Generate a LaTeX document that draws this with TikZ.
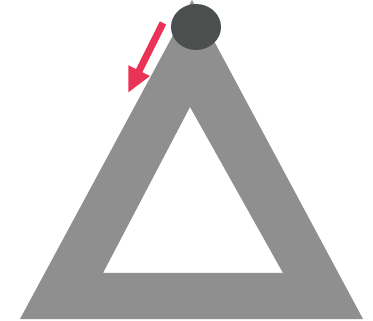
\documentclass[tikz,border=0pt]{standalone}
\usetikzlibrary{arrows.meta}
\definecolor{framegray}{HTML}{8F8F8F}
\definecolor{balldark}{HTML}{4B504E}
\definecolor{arrowred}{HTML}{EB3358}
\tikzset{
  frame/.style={fill=framegray, even odd rule},
  ball/.style={fill=balldark},
  push/.style={draw=arrowred, line width=7pt, -{Triangle[length=25pt,width=22pt]}}
}
\begin{document}
\begin{tikzpicture}[x=1pt,y=-1pt]
\useasboundingbox (0,0) rectangle (373,321);
\fill[frame] (20,319) -- (192,0) -- (363,319) -- cycle
  (103,273) -- (190,107) -- (283,273) -- cycle;
\fill[ball] (196,27) ellipse [x radius=25, y radius=23];
\coordinate (tail) at (163,23);
\coordinate (tip) at (128,93);
\draw[push] (tail) -- (tip);
\end{tikzpicture}
\end{document}
